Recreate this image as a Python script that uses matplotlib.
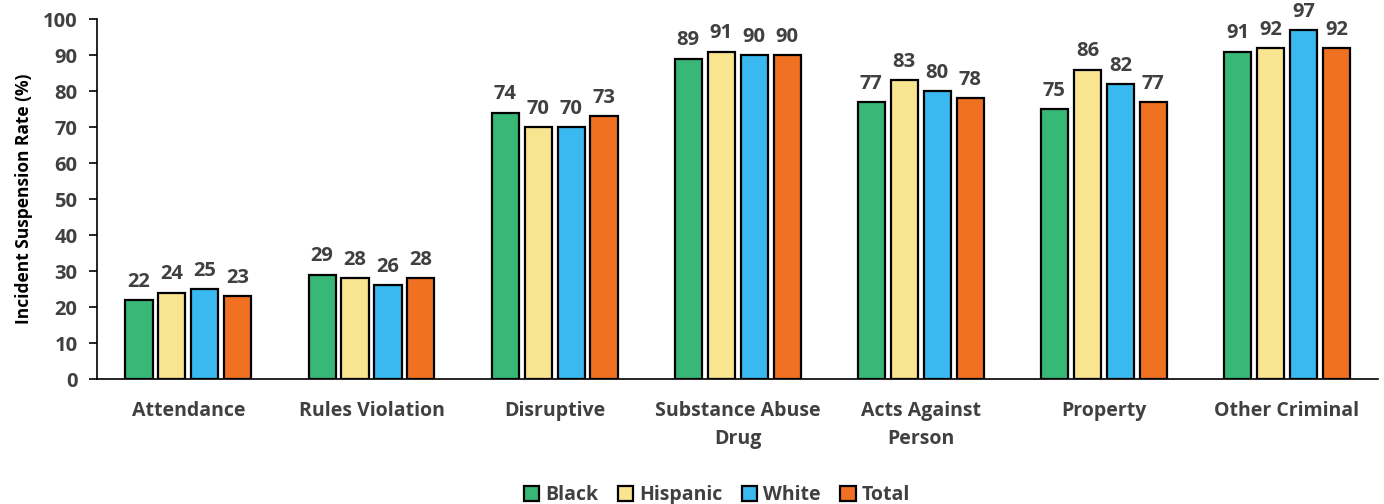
# coding: utf-8

"""Grouped bar chart of incident suspension rates by offense category and group."""

import numpy as np
import matplotlib
matplotlib.use('Agg')
import matplotlib.pyplot as plt

# data
categories = ['Attendance', 'Rules Violation', 'Disruptive', 'Substance Abuse\nDrug',
              'Acts Against\nPerson', 'Property', 'Other Criminal']
groups = ['Black', 'Hispanic', 'White', 'Total']
black = [22, 29, 74, 89, 77, 75, 91]
hispanic = [24, 28, 70, 91, 83, 86, 92]
white = [25, 26, 70, 90, 80, 82, 97]
total = [23, 28, 73, 90, 78, 77, 92]
yticks = list(range(0, 101, 10))

colors = ['#37b877', '#f9e490', '#39b9ef', '#f07122']
text_color = '#404040'

plt.rcParams['font.family'] = ['Open Sans', 'DejaVu Sans']

fig = plt.figure(figsize=(13.84, 5.04), dpi=100)
ax = fig.add_axes([0.070, 0.248, 0.926, 0.714])

x = np.arange(len(categories))
width = 0.148
step = 0.18
for i, (name, vals) in enumerate(zip(groups, [black, hispanic, white, total])):
    pos = x + (i - 1.5) * step
    bars = ax.bar(pos, vals, width, color=colors[i], edgecolor='black',
                  linewidth=1.6, label=name, zorder=3)
    for b, v in zip(bars, vals):
        ax.annotate(f'{v}', (b.get_x() + b.get_width() / 2, v),
                    xytext=(0, 6), textcoords='offset points',
                    ha='center', va='bottom', fontsize=14.5, fontweight='bold',
                    color=text_color, annotation_clip=False)

ax.set_xlim(-0.5, len(categories) - 0.5)
ax.set_ylim(0, 100)
ax.set_yticks(yticks)
ax.set_xticks(x)
ax.set_xticklabels(categories, fontsize=14, fontweight='bold', color=text_color,
                   linespacing=1.55)
ax.tick_params(axis='x', length=0, pad=16)
ax.tick_params(axis='y', direction='out', length=6, width=1.2, labelsize=14.5,
               labelcolor=text_color, pad=8)
for lab in ax.get_yticklabels():
    lab.set_fontweight('bold')
ax.set_ylabel('Incident Suspension Rate (%)', fontsize=12.5, fontweight='bold',
              color='black', labelpad=7)

for s in ['top', 'right']:
    ax.spines[s].set_visible(False)
ax.spines['left'].set_linewidth(1.2)
ax.spines['bottom'].set_linewidth(1.2)

leg = fig.legend(loc='center', bbox_to_anchor=(0.518, 0.018), ncol=4,
                 frameon=False, fontsize=14, handlelength=0.8, handleheight=0.8,
                 handletextpad=0.3, columnspacing=1.0, borderpad=0)
for t in leg.get_texts():
    t.set_fontweight('bold')
    t.set_color(text_color)

# heading of the next document section, cut off by the page edge
fig.text(0.014, -0.051, 'Additional D', fontsize=24, fontweight='bold',
         color='black', va='baseline')

fig.savefig('out.png', dpi=100)
